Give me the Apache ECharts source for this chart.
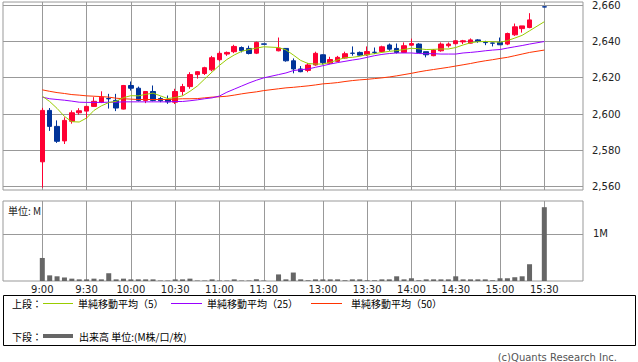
<!DOCTYPE html>
<html><head><meta charset="utf-8">
<script src="https://cdn.jsdelivr.net/npm/echarts@6/dist/echarts.min.js"></script>
<style>html,body{margin:0;padding:0;background:#fff}#c{width:638px;height:362px}</style>
</head><body><div id="c"></div>
<script>
const times = ['9:00','9:05','9:10','9:15','9:20','9:25','9:30','9:35','9:40','9:45',
  '9:50','9:55','10:00','10:05','10:10','10:15','10:20','10:25','10:30','10:35',
  '10:40','10:45','10:50','10:55','11:00','11:05','11:10','11:15','11:20','11:25',
  '11:30','','12:30','12:35','12:40','12:45','12:50','12:55','13:00','13:05',
  '13:10','13:15','13:20','13:25','13:30','13:35','13:40','13:45','13:50','13:55',
  '14:00','14:05','14:10','14:15','14:20','14:25','14:30','14:35','14:40','14:45',
  '14:50','14:55','15:00','15:05','15:10','15:15','15:20','15:25','15:30'];
const open = [2573.7,2602.0,2593.2,2585.2,2596.0,2600.7,2601.6,2604.2,2606.5,2608.5,
  2607.5,2602.7,2615.7,2614.2,2607.5,2612.4,2608.5,2608.0,2606.5,2612.4,
  2615.1,2621.7,2622.3,2624.3,2629.9,2633.0,2634.3,2636.6,2636.1,2633.5,
  2638.6,null,2634.8,2636.1,2629.3,2624.8,2624.0,2627.0,2632.6,2628.0,
  2629.0,2630.8,2633.5,2633.9,2632.6,2634.0,2634.4,2638.0,2636.1,2633.9,
  2637.9,2638.5,2634.3,2632.1,2634.8,2637.6,2638.7,2639.7,2639.0,2640.8,
  2639.5,2639.1,2639.4,2638.5,2643.6,2647.0,2647.6,null,2659.0];
const close = [2602.0,2593.2,2585.0,2596.5,2600.7,2601.8,2604.2,2607.0,2609.3,2608.4,
  2603.3,2615.7,2614.2,2607.5,2612.4,2607.5,2607.3,2606.7,2612.4,2615.1,
  2621.7,2623.3,2625.5,2631.0,2633.4,2633.9,2637.2,2634.9,2633.3,2639.4,
  2638.4,null,2636.2,2629.3,2624.8,2623.3,2627.0,2633.4,2628.3,2630.0,
  2631.2,2633.2,2633.4,2632.4,2634.4,2633.9,2637.0,2635.7,2633.9,2637.6,
  2638.8,2633.9,2632.6,2635.2,2638.5,2638.5,2640.3,2640.3,2640.8,2639.9,
  2639.3,2639.0,2638.1,2644.3,2648.0,2648.5,2651.8,null,2658.9];
const low = [2559.5,2590.7,2584.1,2583.5,2594.7,2599.6,2597.4,2604.0,2606.0,2603.0,
  2601.6,2602.5,2612.9,2606.9,2606.0,2607.0,2606.5,2605.6,2605.5,2610.2,
  2613.9,2619.5,2621.5,2623.5,2629.0,2632.0,2633.5,2633.9,2632.8,2633.0,
  2638.4,null,2634.5,2628.8,2622.4,2623.0,2623.0,2626.6,2627.2,2627.5,
  2628.5,2630.5,2632.1,2632.0,2632.0,2633.0,2634.0,2634.8,2633.3,2633.6,
  2637.5,2633.6,2631.2,2631.8,2634.3,2636.6,2638.3,2638.5,2638.8,2639.2,
  2637.9,2637.2,2638.0,2637.9,2643.0,2644.8,2647.2,null,2658.9];
const high = [2603.4,2603.3,2596.5,2598.2,2602.0,2603.2,2604.5,2609.3,2612.5,2611.1,
  2611.1,2616.0,2617.9,2615.1,2612.6,2615.7,2609.5,2610.2,2613.9,2616.6,
  2623.0,2623.5,2626.0,2632.0,2634.5,2634.4,2638.1,2637.2,2637.6,2639.9,
  2638.6,null,2642.1,2636.2,2630.6,2626.4,2628.1,2634.3,2632.8,2631.5,
  2632.0,2634.3,2637.2,2634.4,2637.2,2636.6,2637.6,2638.8,2638.8,2639.4,
  2641.5,2639.0,2634.3,2635.7,2639.4,2639.4,2640.6,2640.8,2641.6,2641.2,
  2640.3,2639.3,2642.1,2644.8,2649.8,2648.5,2655.5,null,2659.0];
const ma5 = [2609.8,2606.9,2603.1,2598.7,2595.8,2595.6,2597.8,2602.0,2604.5,2606.3,
  2607.0,2609.0,2610.1,2610.0,2610.8,2611.5,2610.0,2608.5,2609.1,2610.0,
  2612.5,2615.4,2619.3,2623.1,2626.8,2630.0,2632.5,2634.5,2635.5,2636.3,
  2637.0,null,2636.6,2635.3,2632.5,2629.5,2627.8,2627.5,2627.5,2628.4,
  2629.8,2631.0,2631.2,2631.8,2632.7,2633.2,2633.9,2634.5,2634.9,2635.5,
  2636.2,2635.9,2635.5,2635.6,2635.8,2635.8,2636.6,2638.0,2639.2,2639.8,
  2639.9,2639.8,2639.5,2640.4,2641.8,2643.3,2645.8,null,2650.8];
const ma25 = [2609.3,2608.4,2608.0,2607.6,2607.1,2606.5,2606.4,2606.4,2606.4,2606.5,
  2606.5,2606.7,2606.7,2606.7,2606.7,2606.7,2606.7,2606.7,2606.9,2606.9,
  2607.3,2607.8,2608.4,2608.9,2609.9,2612.0,2613.7,2615.4,2617.1,2618.6,
  2619.9,null,2621.7,2622.6,2623.9,2624.4,2624.8,2625.7,2626.6,2627.5,
  2628.3,2629.0,2629.7,2630.3,2631.2,2632.1,2632.8,2633.3,2633.6,2633.6,
  2633.6,2633.3,2633.2,2633.2,2633.0,2633.0,2633.0,2633.6,2633.9,2634.3,
  2634.8,2635.2,2635.5,2636.3,2637.0,2637.7,2638.5,null,2639.9];
const ma50 = [2613.3,2612.5,2611.8,2611.3,2610.7,2610.4,2610.0,2609.8,2609.6,2609.3,
  2608.7,2608.4,2608.2,2608.0,2608.0,2608.0,2608.0,2608.0,2608.2,2608.4,
  2608.4,2608.5,2608.9,2609.3,2609.5,2609.8,2610.4,2611.1,2611.7,2612.2,
  2612.9,null,2613.9,2614.4,2614.7,2615.1,2615.5,2616.0,2616.6,2616.9,
  2617.3,2617.9,2618.4,2618.8,2619.1,2619.5,2619.9,2620.4,2621.0,2621.7,
  2622.4,2623.2,2623.9,2624.5,2625.1,2625.7,2626.4,2627.1,2627.8,2628.6,
  2629.3,2629.9,2630.6,2631.2,2632.1,2633.0,2633.9,null,2635.2];
const volume = [0.49,0.12,0.10,0.075,0.05,0.035,0.035,0.05,0.035,0.165,
  0.035,0.05,0.035,0.035,0.035,0.035,0.01,0.01,0.035,0.035,
  0.05,0.01,0.01,0.035,0.01,0.01,0.035,0.01,0.01,0.035,
  0.01,null,0.14,0.035,0.18,0.035,0.015,0.035,0.035,0.035,
  0.035,0.015,0.035,0.035,0.015,0.015,0.035,0.035,0.10,0.035,
  0.058,0.015,0.035,0.035,0.035,0.035,0.10,0.035,0.035,0.035,
  0.035,0.015,0.058,0.058,0.08,0.10,0.357,null,1.57];
const tickLabels = ['9:00','9:30','10:00','10:30','11:00','11:30','13:00','13:30','14:00','14:30','15:00','15:30'];
const priceTicks = [2560,2580,2600,2620,2640,2660];
const volumeTicks = [1];

const C_UP = '#ff0033', C_DOWN = '#003399', C_MA5 = '#99cc00', C_MA25 = '#9900ff', C_MA50 = '#ff3300', C_VOL = '#666666', C_GRID = '#999999';
const LAT = "'DejaVu Sans', 'Noto Sans CJK JP', sans-serif";
const CJK = "'Noto Sans CJK JP', 'DejaVu Sans', sans-serif";

const tickPos = tickLabels.map(t => times.indexOf(t));
const candles = [], vols = [], l5 = [], l25 = [], l50 = [];
times.forEach((t, i) => {
  if (open[i] != null) candles.push([i, open[i], close[i], low[i], high[i]]);
  if (volume[i] != null) vols.push([i, volume[i]]);
  if (ma5[i] != null) l5.push([i, ma5[i]]);
  if (ma25[i] != null) l25.push([i, ma25[i]]);
  if (ma50[i] != null) l50.push([i, ma50[i]]);
});
const labelOf = v => { const j = tickPos.indexOf(Math.round(v)); return j >= 0 ? tickLabels[j] : ''; };

const XMIN = -5.3235, XMAX = 73.24;
function xAxisCfg(gridIndex, showLabel) {
  return {
    type: 'value', gridIndex, min: XMIN, max: XMAX,
    axisLine: {show: false},
    axisTick: {show: false, customValues: tickPos},
    splitLine: {show: true, customValues: tickPos, lineStyle: {color: C_GRID, width: 1}},
    axisLabel: {show: showLabel, customValues: tickPos, formatter: labelOf, margin: 3,
      fontSize: 10, fontFamily: LAT, color: '#222'}
  };
}

const chart = echarts.init(document.getElementById('c'), null, {renderer: 'svg'});
chart.setOption({
  animation: false,
  grid: [
    {left: 3, top: 1, width: 580, height: 189, show: true, borderColor: C_GRID, borderWidth: 1, backgroundColor: 'transparent'},
    {left: 3, top: 201, width: 580, height: 80, show: true, borderColor: C_GRID, borderWidth: 1, backgroundColor: 'transparent'}
  ],
  xAxis: [xAxisCfg(0, false), xAxisCfg(1, true)],
  yAxis: [
    {type: 'value', gridIndex: 0, position: 'right', min: 2558.19, max: 2661.64,
      axisLine: {show: false}, axisTick: {show: false, customValues: priceTicks},
      splitLine: {show: true, customValues: priceTicks, lineStyle: {color: C_GRID, width: 1}},
      axisLabel: {customValues: priceTicks, margin: 9, fontSize: 10, fontFamily: LAT, color: '#222',
        formatter: v => String(Math.round(v)).replace(/\B(?=(\d{3})+(?!\d))/g, ',')}},
    {type: 'value', gridIndex: 1, position: 'right', min: 0, max: 1.702,
      axisLine: {show: false}, axisTick: {show: true, length: 4, customValues: volumeTicks, lineStyle: {color: C_GRID}},
      splitLine: {show: true, customValues: volumeTicks, lineStyle: {color: C_GRID, width: 1}},
      axisLabel: {customValues: volumeTicks, margin: 10, fontSize: 10, fontFamily: LAT, color: '#222',
        formatter: v => Math.round(v) + 'M'}}
  ],
  series: [
    {type: 'candlestick', xAxisIndex: 0, yAxisIndex: 0, data: candles, encode: {x: 0, y: [1, 2, 3, 4]},
      barWidth: 5, itemStyle: {color: C_UP, color0: C_DOWN, borderColor: C_UP, borderColor0: C_DOWN, borderWidth: 1}, z: 3},
    {type: 'line', xAxisIndex: 0, yAxisIndex: 0, data: l50, showSymbol: false, lineStyle: {color: C_MA50, width: 1}, z: 4},
    {type: 'line', xAxisIndex: 0, yAxisIndex: 0, data: l25, showSymbol: false, lineStyle: {color: C_MA25, width: 1}, z: 4},
    {type: 'line', xAxisIndex: 0, yAxisIndex: 0, data: l5, showSymbol: false, lineStyle: {color: C_MA5, width: 1}, z: 4},
    {type: 'bar', xAxisIndex: 1, yAxisIndex: 1, data: vols, barWidth: 5, itemStyle: {color: C_VOL}}
  ],
  graphic: [
    {type: 'text', x: 8, y: 210, style: {text: '単位: M', fontSize: 10, fontFamily: CJK, fill: '#222', verticalAlign: 'middle'}},
    {type: 'rect', shape: {x: 3.5, y: 295.5, width: 632, height: 50}, style: {fill: '#fff', stroke: '#000', lineWidth: 1}},
    {type: 'text', x: 12, y: 303.5, style: {text: '上段：', fontSize: 10, fontFamily: CJK, fill: '#000', verticalAlign: 'middle'}},
    {type: 'line', shape: {x1: 43, y1: 303.5, x2: 73, y2: 303.5}, style: {stroke: C_MA5, lineWidth: 1}},
    {type: 'text', x: 78, y: 303.5, style: {text: '単純移動平均（5）', fontSize: 10, fontFamily: CJK, fill: '#000', verticalAlign: 'middle'}},
    {type: 'line', shape: {x1: 171, y1: 303.5, x2: 202, y2: 303.5}, style: {stroke: C_MA25, lineWidth: 1}},
    {type: 'text', x: 207, y: 303.5, style: {text: '単純移動平均（25）', fontSize: 10, fontFamily: CJK, fill: '#000', verticalAlign: 'middle'}},
    {type: 'line', shape: {x1: 311, y1: 303.5, x2: 342, y2: 303.5}, style: {stroke: C_MA50, lineWidth: 1}},
    {type: 'text', x: 351, y: 303.5, style: {text: '単純移動平均（50）', fontSize: 10, fontFamily: CJK, fill: '#000', verticalAlign: 'middle'}},
    {type: 'text', x: 12, y: 336, style: {text: '下段：', fontSize: 10, fontFamily: CJK, fill: '#000', verticalAlign: 'middle'}},
    {type: 'line', shape: {x1: 43, y1: 336, x2: 73, y2: 336}, style: {stroke: C_VOL, lineWidth: 4}},
    {type: 'text', x: 79, y: 336, style: {text: '出来高 単位:(M株/口/枚)', fontSize: 10, fontFamily: CJK, fill: '#000', verticalAlign: 'middle'}},
    {type: 'text', x: 617, y: 357.5, style: {text: '(c)Quants Research Inc.', fontSize: 10, fontFamily: LAT, fill: '#555', align: 'right', verticalAlign: 'middle'}}
  ]
});
</script>
</body></html>
